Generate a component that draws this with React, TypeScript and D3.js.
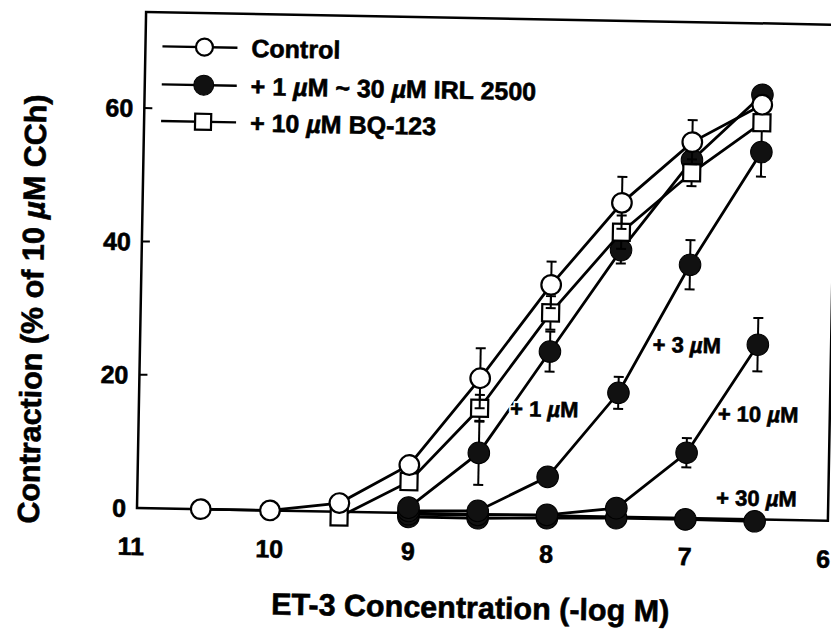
import React from "react";
import * as d3 from "d3";

// ET-3 concentration (-log M)
const controlX = [10.5, 10, 9.5, 9, 8.5, 8, 7.5, 7, 6.5];
const controlY = [0, 0, 1.3, 7.2, 20.4, 34.6, 47.1, 56.4, 62.2];
const controlErr = [0, 0, 0, 1.2, 4.5, 3.5, 3.9, 3.3, 0];

const bqX = [9.5, 9, 8.5, 8, 7.5, 7, 6.5];
const bqY = [-0.8, 4.7, 15.9, 30.4, 42.7, 51.8, 59.5];
const bqErr = [0, 1, 2, 2.5, 2.5, 2, 0];

const irl1X = [9, 8.5, 8, 7.5, 7, 6.5];
const irl1Y = [0.8, 9.2, 24.6, 40.0, 53.7, 63.7];
const irl1Err = [0, 4.8, 3, 2, 0, 0];

const irl3X = [9, 8.5, 8, 7.5, 7, 6.5];
const irl3Y = [0.3, 0.5, 5.8, 18.6, 38.0, 55.1];
const irl3Err = [0, 0, 0, 2.4, 3.7, 3.7];

const irl10X = [9, 8.5, 8, 7.5, 7, 6.5];
const irl10Y = [-0.2, -0.1, 0.1, 1.3, 9.8, 26.2];
const irl10Err = [0, 0, 0, 0, 2.2, 4];

const irl30X = [9, 8.5, 8, 7.5, 7, 6.5];
const irl30Y = [-0.6, -0.6, -0.4, -0.2, -0.2, -0.3];
const irl30Err = [0, 0, 0, 0, 0, 0];

const xTicks = [11, 10, 9, 8, 7, 6];
const yTicks = [0, 20, 40, 60];

const legendLabels = ["Control", "+ 1 µM ~ 30 µM IRL 2500", "+ 10 µM BQ-123"];
const curveLabels = ["+ 1 µM", "+ 3 µM", "+ 10 µM", "+ 30 µM"];

const FONT = "'Liberation Sans', Arial, Helvetica, sans-serif";

function MuText(props: { text: string; [k: string]: any }) {
  const { text, ...rest } = props;
  const parts = text.split("µ");
  return (
    <text {...rest}>
      {parts.map((p, i) => (
        <React.Fragment key={i}>
          {i > 0 && <tspan fontStyle="italic">µ</tspan>}
          <tspan>{p}</tspan>
        </React.Fragment>
      ))}
    </text>
  );
}

export default function App() {
  const x = d3.scaleLinear().domain([11, 6]).range([131.5, 824]);
  const y = d3.scaleLinear().domain([0, 60]).range([508, 108]);

  const frameLeft = 137;
  const frameRight = 828;
  const frameTop = y(74.4);
  const frameBottom = y(0);

  const line = d3
    .line<[number, number]>()
    .x((d) => x(d[0]))
    .y((d) => y(d[1]));

  type S = { xs: number[]; ys: number[]; err: number[]; kind: "open" | "filled" | "square" };
  const series: S[] = [
    { xs: irl30X, ys: irl30Y, err: irl30Err, kind: "filled" },
    { xs: irl10X, ys: irl10Y, err: irl10Err, kind: "filled" },
    { xs: irl3X, ys: irl3Y, err: irl3Err, kind: "filled" },
    { xs: irl1X, ys: irl1Y, err: irl1Err, kind: "filled" },
    { xs: bqX, ys: bqY, err: bqErr, kind: "square" },
    { xs: controlX, ys: controlY, err: controlErr, kind: "open" },
  ];

  const marker = (kind: string, cx: number, cy: number, key: string, small = false) => {
    if (kind === "open")
      return <circle key={key} cx={cx} cy={cy} r={small ? 8.5 : 9.8} fill="#fff" stroke="#000" strokeWidth={2.2} />;
    if (kind === "filled")
      return <circle key={key} cx={cx} cy={cy} r={small ? 10 : 10.8} fill="#111" stroke="#000" strokeWidth={1} />;
    const s = small ? 16 : 17;
    return <rect key={key} x={cx - s / 2} y={cy - s / 2} width={s} height={s} fill="#fff" stroke="#000" strokeWidth={2.2} />;
  };

  const curveLabelPos = [
    { lx: 8.28, ly: 16.0 },
    { lx: 7.26, ly: 26.0 },
    { lx: 6.78, ly: 15.8 },
    { lx: 6.78, ly: 3.2 },
  ];

  const legendRows = [
    { kind: "open", ly: 69.3 },
    { kind: "filled", ly: 63.6 },
    { kind: "square", ly: 58.1 },
  ];

  const heavy = { stroke: "#000", strokeWidth: 0.6 };

  return (
    <svg
      width={831}
      height={631}
      style={{ position: "absolute", left: 0, top: 0, display: "block", background: "#fff" }}
      fontFamily={FONT}
      fontWeight="bold"
    >
      <rect x={0} y={0} width={831} height={631} fill="#fff" />
      <g transform="rotate(1.05, 137, 508)">
        {/* frame */}
        <rect
          x={frameLeft}
          y={frameTop}
          width={frameRight - frameLeft}
          height={frameBottom - frameTop}
          fill="none"
          stroke="#000"
          strokeWidth={2.5}
        />
        {/* y ticks */}
        {yTicks.map((t) => (
          <g key={"yt" + t}>
            {t > 0 && <line x1={frameLeft} x2={frameLeft + 8} y1={y(t)} y2={y(t)} stroke="#000" strokeWidth={2} />}
            <text x={126} y={y(t)} dy="0.36em" textAnchor="end" fontSize={25} {...heavy}>
              {t}
            </text>
          </g>
        ))}
        {/* x tick labels */}
        {xTicks.map((t) => (
          <text key={"xt" + t} x={x(t)} y={555} textAnchor="middle" fontSize={25} {...heavy}>
            {t}
          </text>
        ))}
        {/* axis titles */}
        <text x={472} y={612} textAnchor="middle" fontSize={30.5} {...heavy}>
          ET-3 Concentration (-log M)
        </text>
        <MuText
          text="Contraction (% of 10 µM CCh)"
          transform="translate(39, 311) rotate(-90)"
          textAnchor="middle"
          fontSize={30.5}
          {...heavy}
        />

        {/* series */}
        {series.map((s, si) => {
          const pts = s.xs.map((v, i) => [v, s.ys[i]] as [number, number]);
          return (
            <g key={"s" + si}>
              {pts.map((p, i) =>
                s.err[i] > 0 ? (
                  <g key={"e" + i} stroke="#000" strokeWidth={2}>
                    <line x1={x(p[0])} x2={x(p[0])} y1={y(p[1] - s.err[i])} y2={y(p[1] + s.err[i])} />
                    <line x1={x(p[0]) - 5} x2={x(p[0]) + 5} y1={y(p[1] + s.err[i])} y2={y(p[1] + s.err[i])} />
                    <line x1={x(p[0]) - 5} x2={x(p[0]) + 5} y1={y(p[1] - s.err[i])} y2={y(p[1] - s.err[i])} />
                  </g>
                ) : null
              )}
              <path d={line(pts) || ""} fill="none" stroke="#000" strokeWidth={2.8} />
              {pts.map((p, i) => marker(s.kind, x(p[0]), y(p[1]), "m" + si + "-" + i))}
            </g>
          );
        })}

        {/* curve labels: white halo, then heavy text */}
        {curveLabels.map((lab, i) => (
          <g key={"cl" + i}>
            <MuText
              text={lab}
              x={x(curveLabelPos[i].lx)}
              y={y(curveLabelPos[i].ly)}
              dy="0.36em"
              fontSize={22}
              stroke="#fff"
              strokeWidth={4}
              fill="#fff"
            />
            <MuText
              text={lab}
              x={x(curveLabelPos[i].lx)}
              y={y(curveLabelPos[i].ly)}
              dy="0.36em"
              fontSize={22}
              fill="#000"
              {...heavy}
            />
          </g>
        ))}

        {/* legend */}
        {legendRows.map((r, i) => (
          <g key={"lg" + i}>
            <line x1={154} x2={229} y1={y(r.ly)} y2={y(r.ly)} stroke="#000" strokeWidth={2.4} />
            {marker(r.kind, 196, y(r.ly), "lm" + i, true)}
            <MuText text={legendLabels[i]} x={243} y={y(r.ly)} dy="0.36em" fontSize={25} {...heavy} />
          </g>
        ))}
      </g>
    </svg>
  );
}
